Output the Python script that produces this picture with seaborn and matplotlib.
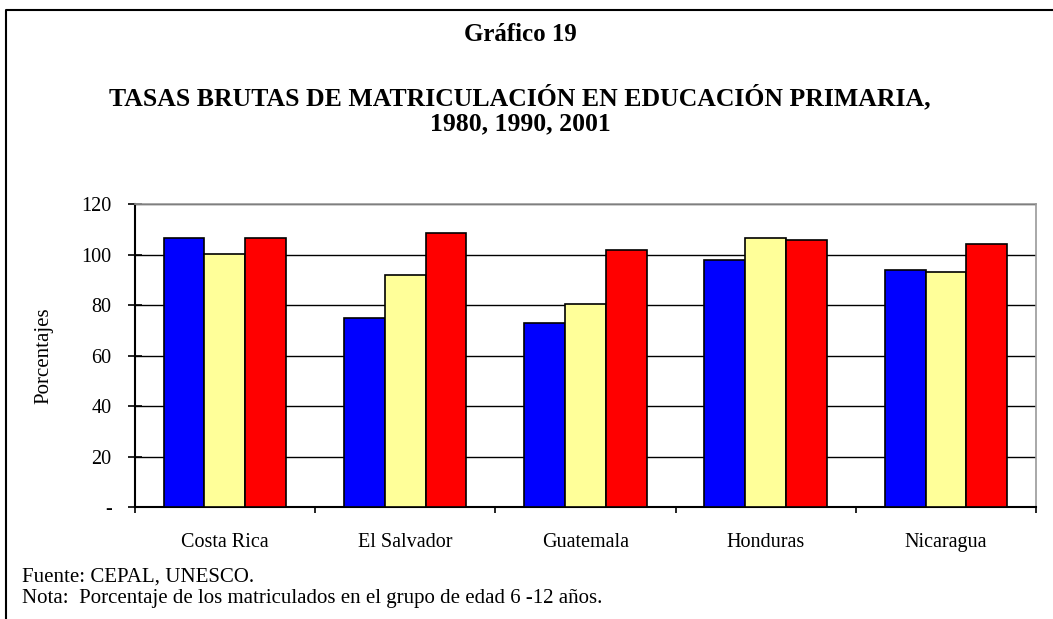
import pandas as pd
import matplotlib.pyplot as plt
import seaborn as sns
from matplotlib.lines import Line2D

# Datos
paises = ['Costa Rica', 'El Salvador', 'Guatemala', 'Honduras', 'Nicaragua']
anios = ['1980', '1990', '2001']
tasa_1980 = [106.6, 75.0, 73.1, 97.8, 93.9]
tasa_1990 = [100.3, 92.1, 80.5, 106.6, 93.3]
tasa_2001 = [106.6, 108.8, 101.7, 105.8, 104.2]
colores = ['#0000FF', '#FFFF99', '#FF0000']
yticks = [0, 20, 40, 60, 80, 100, 120]
ytick_labels = ['-', '20', '40', '60', '80', '100', '120']

sns.set_theme(style="white")
plt.rcParams['font.family'] = ['Liberation Serif', 'DejaVu Serif']
for k in ['text.color', 'axes.labelcolor', 'xtick.color', 'ytick.color']:
    plt.rcParams[k] = 'black'

df = pd.DataFrame({
    'pais': paises * 3,
    'anio': [a for a in anios for _ in paises],
    'tasa': tasa_1980 + tasa_1990 + tasa_2001,
})

fig = plt.figure(figsize=(10.53, 6.19), dpi=100)
ax = fig.add_axes([0.128, 0.181, 0.856, 0.489])

sns.barplot(data=df, x='pais', y='tasa', hue='anio', palette=colores,
            saturation=1, width=0.68, gap=0, edgecolor='black', linewidth=1.2,
            legend=False, ax=ax, zorder=3)

ax.set_ylim(0, 120)
ax.set_xlim(-0.5, 4.5)
ax.set_yticks(yticks)
ax.set_yticklabels(ytick_labels, fontsize=14.5)
ax.yaxis.grid(True, color='black', linewidth=1.0, zorder=0)
ax.set_axisbelow(True)

# ticks en los límites entre categorías
ax.set_xticks([i - 0.5 for i in range(len(paises) + 1)], minor=True)
ax.tick_params(axis='x', which='minor', bottom=True, direction='out', length=4.5, width=1.2, color='black')
ax.tick_params(axis='x', which='major', bottom=True, length=0, pad=19, labelsize=14.5)
ax.tick_params(axis='y', which='major', left=True, direction='inout', length=9.5, width=1.2,
               color='black', pad=12)

for s in ['left', 'bottom']:
    ax.spines[s].set_color('black')
    ax.spines[s].set_linewidth(1.5)
for s in ['top', 'right']:
    ax.spines[s].set_color('#999999')
    ax.spines[s].set_linewidth(1.2)

ax.set_xlabel('')
ax.set_ylabel('Porcentajes', fontsize=15, labelpad=20)

fig.text(0.494, 0.934, 'Gráfico 19', ha='center', va='baseline', fontsize=18, fontweight='bold')
fig.text(0.494, 0.830, 'TASAS BRUTAS DE MATRICULACIÓN EN EDUCACIÓN PRIMARIA,',
         ha='center', va='baseline', fontsize=18.5, fontweight='bold')
fig.text(0.494, 0.789, '1980, 1990, 2001', ha='center', va='baseline', fontsize=18.5, fontweight='bold')

fig.text(0.0206, 0.0603, 'Fuente: CEPAL, UNESCO.', ha='left', va='baseline', fontsize=15)
fig.text(0.0206, 0.0258, 'Nota:  Porcentaje de los matriculados en el grupo de edad 6 -12 años.',
         ha='left', va='baseline', fontsize=15)

# marco (solo lados izquierdo y superior visibles)
fig.lines.append(Line2D([0.0057, 0.0057, 1.0], [0.0, 0.984, 0.984], transform=fig.transFigure,
                        color='black', linewidth=1.5))

fig.savefig('out.png', dpi=100)
